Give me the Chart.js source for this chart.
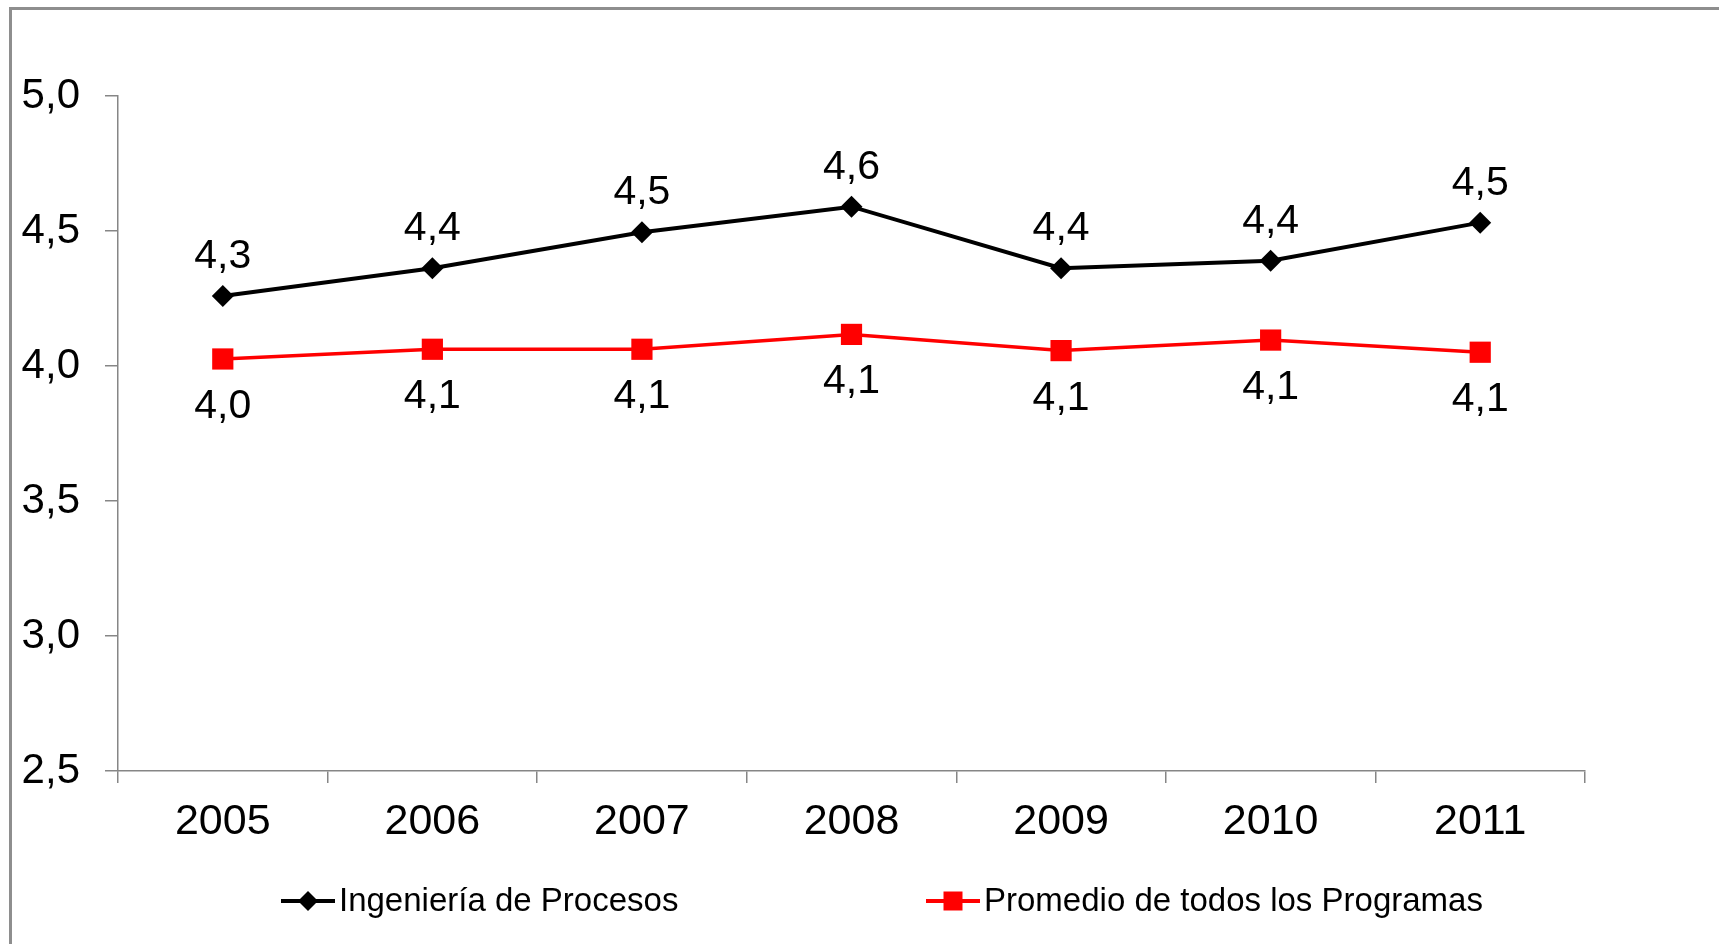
<!DOCTYPE html>
<html lang="es">
<head>
    <meta charset="UTF-8">
    <title>Ingeniería de Procesos vs Promedio</title>
    <style>
        body {
            margin: 0;
            padding: 0;
            background: #ffffff;
            overflow: hidden;
        }

        /* outer grey frame, only top and left edges show */
        .frame {
            position: absolute;
            left: 9px;
            top: 7px;
            width: 1800px;
            height: 1000px;
            border-left: 3px solid #8e8e8e;
            border-top: 3px solid #8e8e8e;
        }

        .wrap {
            position: absolute;
            left: 0;
            top: 0;
            width: 1719px;
            height: 944px;
        }
    </style>
</head>
<body>
    <div class="frame"></div>
    <div class="wrap">
        <canvas id="chart"></canvas>
    </div>

    <script src="https://cdn.jsdelivr.net/npm/chart.js"></script>
    <script>
        // Data
        const years = ['2005', '2006', '2007', '2008', '2009', '2010', '2011'];
        const procesos = [4.259, 4.362, 4.495, 4.590, 4.362, 4.390, 4.531];
        const promedio = [4.026, 4.062, 4.062, 4.117, 4.057, 4.096, 4.051];
        const yTicks = [2.5, 3.0, 3.5, 4.0, 4.5, 5.0];

        const FONT = '"Liberation Sans", Arial, sans-serif';
        const AXIS = '#868686';

        function comma(v) {
            return v.toFixed(1).replace('.', ',');
        }

        // value labels above / below each point
        const valueLabels = {
            id: 'valueLabels',
            afterDatasetsDraw(chart) {
                const ctx = chart.ctx;
                ctx.save();
                ctx.font = '41px ' + FONT;
                ctx.fillStyle = '#000';
                ctx.textAlign = 'center';
                ctx.textBaseline = 'alphabetic';
                chart.data.datasets.forEach((ds, i) => {
                    const meta = chart.getDatasetMeta(i);
                    meta.data.forEach((pt, j) => {
                        const dy = ds.labelPos === 'above' ? -28 : 59;
                        ctx.fillText(comma(ds.data[j]), pt.x, pt.y + dy);
                    });
                });
                ctx.restore();
            }
        };

        // legend drawn by hand so it sits like the original
        const legendRow = {
            id: 'legendRow',
            afterDraw(chart) {
                const ctx = chart.ctx;
                const starts = [281, 926];
                const y = 901;
                ctx.save();
                ctx.font = '33px ' + FONT;
                ctx.textBaseline = 'middle';
                ctx.textAlign = 'left';
                chart.data.datasets.forEach((ds, i) => {
                    const x = starts[i];
                    ctx.strokeStyle = ds.borderColor;
                    ctx.lineWidth = 4;
                    ctx.beginPath();
                    ctx.moveTo(x, y);
                    ctx.lineTo(x + 54, y);
                    ctx.stroke();
                    ctx.fillStyle = ds.borderColor;
                    ctx.beginPath();
                    if (ds.pointStyle === 'rectRot') {
                        ctx.moveTo(x + 27, y - 10);
                        ctx.lineTo(x + 37, y);
                        ctx.lineTo(x + 27, y + 10);
                        ctx.lineTo(x + 17, y);
                        ctx.closePath();
                    } else {
                        ctx.rect(x + 17.5, y - 9.5, 19, 19);
                    }
                    ctx.fill();
                    ctx.fillStyle = '#000';
                    ctx.fillText(ds.label, x + 58, y + 1);
                });
                ctx.restore();
            }
        };

        new Chart(document.getElementById('chart'), {
            type: 'line',
            data: {
                labels: years,
                datasets: [
                    {
                        label: 'Ingeniería de Procesos',
                        data: procesos,
                        borderColor: '#000000',
                        backgroundColor: '#000000',
                        borderWidth: 4,
                        pointStyle: 'rectRot',
                        pointRadius: 11,
                        pointBorderWidth: 0,
                        tension: 0,
                        labelPos: 'above'
                    },
                    {
                        label: 'Promedio de todos los Programas',
                        data: promedio,
                        borderColor: '#ff0000',
                        backgroundColor: '#ff0000',
                        borderWidth: 3.5,
                        pointStyle: 'rect',
                        pointRadius: 15,
                        pointBorderWidth: 0,
                        tension: 0,
                        labelPos: 'below'
                    }
                ]
            },
            options: {
                responsive: true,
                maintainAspectRatio: false,
                animation: false,
                layout: {
                    padding: { top: 96, right: 134, bottom: 0, left: 0 }
                },
                plugins: {
                    legend: { display: false },
                    tooltip: { enabled: false }
                },
                scales: {
                    x: {
                        offset: true,
                        grid: {
                            offset: true,
                            drawOnChartArea: false,
                            drawTicks: true,
                            tickLength: 12,
                            color: AXIS,
                            lineWidth: 1.5
                        },
                        border: { display: true, color: AXIS, width: 1.5 },
                        ticks: {
                            color: '#000',
                            font: { size: 43, family: FONT },
                            padding: 13,
                            maxRotation: 0
                        },
                        afterFit(scale) { scale.height = 173; }
                    },
                    y: {
                        min: 2.5,
                        max: 5.0,
                        afterBuildTicks(scale) {
                            scale.ticks = yTicks.map(v => ({ value: v }));
                        },
                        grid: {
                            drawOnChartArea: false,
                            drawTicks: true,
                            tickLength: 13,
                            color: AXIS,
                            lineWidth: 1.5
                        },
                        border: { display: true, color: AXIS, width: 1.5 },
                        ticks: {
                            color: '#000',
                            font: { size: 42, family: FONT },
                            padding: 25,
                            callback: v => comma(v)
                        },
                        afterFit(scale) { scale.width = 118; }
                    }
                }
            },
            plugins: [valueLabels, legendRow]
        });
    </script>
</body>
</html>
